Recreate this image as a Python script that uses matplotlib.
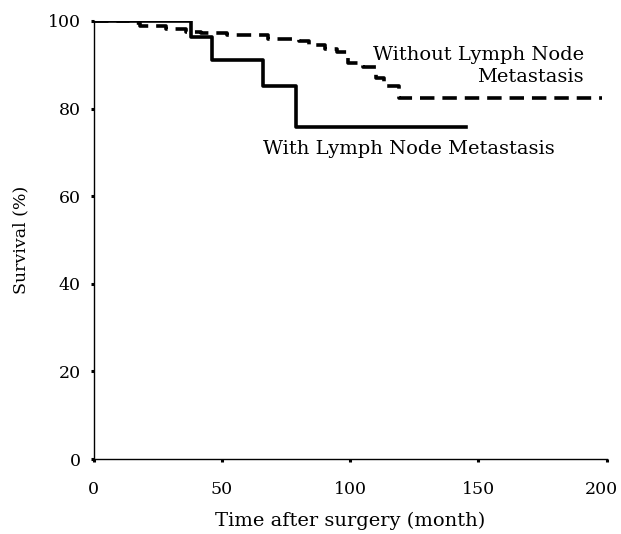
import matplotlib
matplotlib.use("Agg")
import matplotlib.pyplot as plt
import matplotlib.transforms as mtransforms

# Kaplan-Meier steps (months, survival %)
with_ln_time = [0, 38, 46, 66, 79, 145]
with_ln_surv = [100, 96.3, 91.2, 85.2, 75.8, 75.8]

without_ln_time = [0, 14, 18, 28, 36, 42, 52, 68, 80, 84, 90, 95, 99, 105, 110, 113, 119, 198]
without_ln_surv = [100, 99.5, 98.8, 98.2, 97.5, 97.3, 96.9, 96.0, 95.5, 94.5, 93.5, 93.0,
                   90.5, 89.5, 87.0, 85.2, 82.5, 82.5]

x_ticks = [0, 50, 100, 150, 200]
y_ticks = [0, 20, 40, 60, 80, 100]

plt.rcParams["font.family"] = ["DejaVu Serif"]

fig = plt.figure(figsize=(6.21, 5.34), dpi=100)
ax = fig.add_axes([0.151, 0.1404, 0.826, 0.8203])

ax.step(without_ln_time, without_ln_surv, where="post", color="black",
        linewidth=2.6, linestyle=(0, (4, 2.2)))
ax.step(with_ln_time, with_ln_surv, where="post", color="black", linewidth=2.6)

ax.set_xlim(0, 200)
ax.set_ylim(0, 100)
ax.set_xticks(x_ticks)
ax.set_yticks(y_ticks)
ax.tick_params(axis="both", direction="out", length=2.5, width=2.2,
               labelsize=12.5, color="black")
ax.tick_params(axis="x", pad=13)
ax.tick_params(axis="y", pad=7)

# last x label sits close to the figure edge, nudge it in a little
last = ax.get_xticklabels()[-1]
last.set_transform(last.get_transform() +
                   mtransforms.ScaledTranslation(-5 / 100, 0, fig.dpi_scale_trans))

for s in ["top", "right"]:
    ax.spines[s].set_visible(False)
for s in ["left", "bottom"]:
    ax.spines[s].set_linewidth(1.0)

ax.set_xlabel("Time after surgery (month)", fontsize=14, labelpad=10)
ax.set_ylabel("Survival (%)", fontsize=12.5, labelpad=13)

ax.text(191, 89.7, "Without Lymph Node\nMetastasis", ha="right", va="center",
        multialignment="right", fontsize=14, linespacing=1.25)
ax.text(66, 70.8, "With Lymph Node Metastasis", ha="left", va="center", fontsize=14)

fig.savefig("out.png", dpi=100)
